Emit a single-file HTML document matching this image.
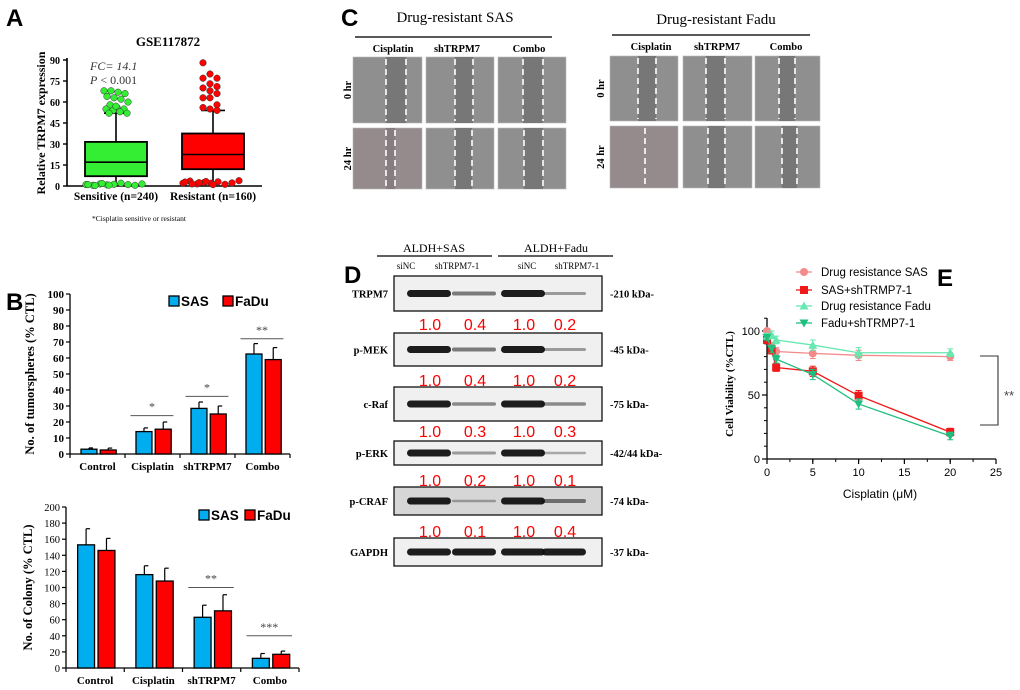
<!DOCTYPE html>
<html><head><meta charset="utf-8"><style>
html,body{margin:0;padding:0;background:#fff;}
svg{display:block;font-family:"Liberation Serif",serif;}
.sans{font-family:"Liberation Sans",sans-serif;}
</style></head><body>
<svg id="fig" width="1020" height="690" viewBox="0 0 1020 690" xmlns="http://www.w3.org/2000/svg">
<g id="gA"></g>
<g id="gB1"></g>
<g id="gB2"></g>
<g id="gC"></g>
<g id="gD"></g>
<g id="gE"></g>
</svg>
<script>
// ---------- Panel A data ----------
const boxGroups = ["Sensitive (n=240)", "Resistant (n=160)"];
const boxQ1 = [7, 12];
const boxMedian = [17, 22.5];
const boxQ3 = [31.5, 37.5];
const boxWhiskerHi = [52, 54];
const boxWhiskerLo = [0, 0];
const outSensHi = [68,68,67,66,64,63,62,60,58,56,55,55,54,53,52,52,57];
const outSensLo = [1,0.5,1.5,0.8,1.2,2,1,0.5,1.5,1,0.3,1.8,0.6];
const outResHi = [88,80,77,77,73,71,70,68,66,63,63,58,56,55,54];
const outResLo = [2,3.5,1.5,2.5,2,3,1.2,2.2,3.8,2.8,1.5,2.4,3.2,1];
const aTicks = [0,15,30,45,60,75,90];
// ---------- Panel B data ----------
const bCats = ["Control","Cisplatin","shTRPM7","Combo"];
const tsSAS = [3, 14, 28.5, 62.5];
const tsFaDu = [2.5, 15.5, 25, 59];
const tsSASerr = [0.8, 2.3, 4, 6.5];
const tsFaDuerr = [1.2, 4.5, 5, 7.5];
const tsTicks = [0,10,20,30,40,50,60,70,80,90,100];
const colSAS = [153, 116, 63, 12];
const colFaDu = [146, 108, 71, 17];
const colSASerr = [20, 11, 15, 6];
const colFaDuerr = [15, 16, 20, 4];
const colTicks = [0,20,40,60,80,100,120,140,160,180,200];
// ---------- Panel D data ----------
const blotProteins = ["TRPM7","p-MEK","c-Raf","p-ERK","p-CRAF","GAPDH"];
const blotKDa = ["-210 kDa-","-45 kDa-","-75 kDa-","-42/44 kDa-","-74 kDa-","-37 kDa-"];
const blotRatios = [[1.0,0.4,1.0,0.2],[1.0,0.4,1.0,0.2],[1.0,0.3,1.0,0.3],[1.0,0.2,1.0,0.1],[1.0,0.1,1.0,0.4]];
// ---------- Panel E data ----------
const eDoses = [0, 0.5, 1, 5, 10, 20];
const eSAS = [100, 88, 84, 82.5, 81, 80];
const eSASsh = [93, 85, 71.5, 68.5, 49.5, 21];
const eFadu = [96, 97, 93, 89, 83, 83];
const eFadush = [95, 86, 78, 66, 43, 18];
const eErr = [2, 3, 3, 4, 4, 3];
const eXTicks = [0,5,10,15,20,25];
const eYTicks = [0,50,100];

const NS="http://www.w3.org/2000/svg";
function el(parent, tag, attrs, text){
  const e=document.createElementNS(NS,tag);
  for(const k in attrs) e.setAttribute(k,attrs[k]);
  if(text!==undefined) e.textContent=text;
  parent.appendChild(e); return e;
}

// ================= Panel A =================
(function(){
  const g=document.getElementById('gA');
  let t;
  t=el(g,'text',{x:6,y:26,'font-size':24,'font-weight':'bold',class:'sans'},'A');
   
  t=el(g,'text',{x:168,y:46,'font-size':13,'font-weight':'bold','text-anchor':'middle'},'GSE117872');
   
  const x0=67,yb=186,yt=60;
  const y=v=>yb-(v/90)*(yb-yt);
  const ax=el(g,'path',{d:`M${x0},${yt-2}V${yb}H262`,stroke:'#000','stroke-width':1.6,fill:'none'});
   
  aTicks.forEach(v=>{
    el(g,'line',{x1:x0-4,x2:x0,y1:y(v),y2:y(v),stroke:'#000','stroke-width':1.4});
    t=el(g,'text',{x:x0-7,y:y(v)+4,'font-size':10,'font-weight':'bold','text-anchor':'end'},v);
     
  });
  t=el(g,'text',{x:0,y:0,'font-size':12,'font-weight':'bold','text-anchor':'middle',transform:`translate(45,${(yt+yb)/2}) rotate(-90)`},'Relative TRPM7 expression');
   
  const cx=[116,213], colors=['#33ee33','#ff0000'];
  boxGroups.forEach((name,i)=>{
    el(g,'line',{x1:cx[i],x2:cx[i],y1:y(boxWhiskerHi[i]),y2:y(boxWhiskerLo[i]),stroke:'#000','stroke-width':1.6});
    el(g,'line',{x1:cx[i]-12,x2:cx[i]+12,y1:y(boxWhiskerHi[i]),y2:y(boxWhiskerHi[i]),stroke:'#000','stroke-width':1.6});
    const b=el(g,'rect',{x:cx[i]-31,y:y(boxQ3[i]),width:62,height:y(boxQ1[i])-y(boxQ3[i]),fill:colors[i],stroke:'#000','stroke-width':1.8});
     
    el(g,'line',{x1:cx[i]-31,x2:cx[i]+31,y1:y(boxMedian[i]),y2:y(boxMedian[i]),stroke:'#000','stroke-width':1.6});
    t=el(g,'text',{x:cx[i],y:200,'font-size':11.5,'font-weight':'bold','text-anchor':'middle'},name);
     
  });
  function dots(vals,c,col,spread){
    vals.forEach((v,k)=>{
      const dx=((k*7)%(spread*2+1))-spread;
      const d=el(g,'circle',{cx:c+dx,cy:y(v),r:3.3,fill:col,stroke:'#333','stroke-width':0.5});
       
    });
  }
  dots(outSensHi,cx[0],colors[0],12); dots(outSensLo,cx[0],colors[0],30);
  dots(outResHi,cx[1],colors[1],10); dots(outResLo,cx[1],colors[1],30);
  t=el(g,'text',{x:90,y:70,'font-size':12,'font-style':'italic',fill:'#333'},'FC= 14.1');
   
  t=el(g,'text',{x:90,y:84,'font-size':12,fill:'#333'}); t.innerHTML='<tspan font-style="italic">P</tspan> &lt; 0.001';
   
  t=el(g,'text',{x:92,y:221,'font-size':7.5},'*Cisplatin sensitive or resistant');
   
})();

// ================= Panel B =================
function barChart(g,opt){
  const {x0,x1,yb,yt,max,ticks,sas,fadu,sasE,faduE,sig,legY,legX,catY,title,titleX,tickBold}=opt;
  const y=v=>yb-(v/max)*(yb-yt);
  const gw=(x1-x0)/bCats.length;
  let t;
  const ax=el(g,'path',{d:`M${x0},${yt}V${yb}H${x1}`,stroke:'#000','stroke-width':1.3,fill:'none'});
   
  ticks.forEach(v=>{
    el(g,'line',{x1:x0-4,x2:x0,y1:y(v),y2:y(v),stroke:'#000','stroke-width':1.2});
    t=el(g,'text',{x:x0-6,y:y(v)+4,'font-size':tickBold?11:10.5,'font-weight':tickBold?'bold':'normal','text-anchor':'end'},v);
     
  });
  for(let i=0;i<=bCats.length;i++) el(g,'line',{x1:x0+i*gw,x2:x0+i*gw,y1:yb,y2:yb+4,stroke:'#000','stroke-width':1.2});
  bCats.forEach((c,i)=>{
    const gx=x0+i*gw;
    [[sas,sasE,'#00aeef',gw*0.2,'sas'],[fadu,faduE,'#ff0000',gw*0.55,'fadu']].forEach(([vals,errs,col,off,nm])=>{
      const bx=gx+off, bw=gw*0.29;
      el(g,'line',{x1:bx+bw/2,x2:bx+bw/2,y1:y(vals[i]),y2:y(vals[i]+errs[i]),stroke:'#000','stroke-width':1.2});
      el(g,'line',{x1:bx+bw/2,x2:bx+bw/2+4,y1:y(vals[i]+errs[i]),y2:y(vals[i]+errs[i]),stroke:'#000','stroke-width':1.2});
      const r=el(g,'rect',{x:bx,y:y(vals[i]),width:bw,height:yb-y(vals[i]),fill:col,stroke:'#000','stroke-width':1.3});
       
    });
    t=el(g,'text',{x:gx+gw/2,y:catY,'font-size':11,'font-weight':'bold','text-anchor':'middle'},c);
     
  });
  sig.forEach(([ci,lv,stars])=>{
    const gx=x0+ci*gw, ly=y(lv);
    el(g,'line',{x1:gx+gw*0.1,x2:gx+gw*0.88,y1:ly,y2:ly,stroke:'#555','stroke-width':1});
    t=el(g,'text',{x:gx+gw*0.49,y:ly-5,'font-size':12,'text-anchor':'middle',fill:'#444'},stars);
     
  });
  [[legX[0],'#00aeef','SAS'],[legX[1],'#ff0000','FaDu']].forEach(([lx,col,nm])=>{
    const s=el(g,'rect',{x:lx,y:legY-8,width:10,height:10,fill:col,stroke:'#000','stroke-width':1.3});
     
    t=el(g,'text',{x:lx+12,y:legY+2,'font-size':13.5,'font-weight':'bold',class:'sans'},nm);
     
  });
  t=el(g,'text',{x:0,y:0,'font-size':12.5,'font-weight':'bold','text-anchor':'middle',transform:`translate(${titleX},${(yt+yb)/2}) rotate(-90)`},title);
   
}
(function(){
  const g=document.getElementById('gB1');
  const t=el(g,'text',{x:6,y:310,'font-size':24,'font-weight':'bold',class:'sans'},'B');
   
  barChart(g,{x0:70,x1:290,yb:454,yt:294,max:100,ticks:tsTicks,sas:tsSAS,fadu:tsFaDu,sasE:tsSASerr,faduE:tsFaDuerr,
    sig:[[1,24,'*'],[2,36,'*'],[3,72,'**']],legY:304,legX:[169,223],catY:470,title:'No. of tumorspheres (% CTL)',titleX:34,tickBold:true});
  barChart(document.getElementById('gB2'),{x0:66,x1:299,yb:668,yt:507,max:200,ticks:colTicks,sas:colSAS,fadu:colFaDu,sasE:colSASerr,faduE:colFaDuerr,
    sig:[[2,100,'**'],[3,40,'***']],legY:518,legX:[199,245],catY:684,title:'No. of Colony (% CTL)',titleX:32,tickBold:false});
})();

// ================= Panel C =================
(function(){
  const g=document.getElementById('gC');
  let t=el(g,'text',{x:341,y:26,'font-size':24,'font-weight':'bold',class:'sans'},'C');
   
  const blocks=[
    {title:'Drug-resistant SAS',tx:455,ty:22,line:[355,552,37],hy:52,heads:[393,457,529],cols:[[353,422],[426,494],[498,566]],rows:[[57,123],[128,189]],rl:347,
     gaps:[[[386,406],[455,473],[523,543]],[[386,395],[455,472],[524,543]]]},
    {title:'Drug-resistant Fadu',tx:716,ty:24,line:[612,810,35],hy:50,heads:[651,717,786],cols:[[610,678],[683,752],[755,820]],rows:[[56,121],[126,188]],rl:600,
     gaps:[[[638,656],[706,725],[779,795]],[[645,645],[708,725],[782,797]]]}
  ];
  const heads=['Cisplatin','shTRPM7','Combo'];
  blocks.forEach((b,bi)=>{
    t=el(g,'text',{x:b.tx,y:b.ty,'font-size':15,'text-anchor':'middle'},b.title);
     
    el(g,'line',{x1:b.line[0],x2:b.line[1],y1:b.line[2],y2:b.line[2],stroke:'#222','stroke-width':1.5});
    heads.forEach((h,i)=>{
      t=el(g,'text',{x:b.heads[i],y:b.hy,'font-size':10.5,'font-weight':'bold','text-anchor':'middle'},h);
       
    });
    ['0 hr','24 hr'].forEach((rname,ri)=>{
      const [ry0,ry1]=b.rows[ri];
      t=el(g,'text',{x:0,y:0,'font-size':10.5,'font-weight':'bold','text-anchor':'middle',transform:`translate(${b.rl+4},${(ry0+ry1)/2}) rotate(-90)`},rname);
       
      b.cols.forEach(([cx0,cx1],ci)=>{
        const pink=(ri===1&&ci===0);
        const im=el(g,'rect',{x:cx0,y:ry0,width:cx1-cx0,height:ry1-ry0,fill:pink?'#958b8d':'#8f8f8f',stroke:'#bbb','stroke-width':0.6});
         
        const [g0,g1]=b.gaps[ri][ci];
        if(g1>g0) el(g,'rect',{x:g0,y:ry0,width:g1-g0,height:ry1-ry0,fill:pink?'#857d80':'#777'});
        (g1>g0?[g0,g1]:[g0]).forEach(xx=>el(g,'line',{x1:xx,x2:xx,y1:ry0+2,y2:ry1-2,stroke:'#fff','stroke-width':1.6,'stroke-dasharray':'6 4'}));
      });
    });
  });
})();

// ================= Panel D =================
(function(){
  const g=document.getElementById('gD');
  let t=el(g,'text',{x:344,y:283,'font-size':24,'font-weight':'bold',class:'sans'},'D');
   
  [['ALDH+SAS',434,377,492],['ALDH+Fadu',556,498,613]].forEach(([s,cx,a,b])=>{
    t=el(g,'text',{x:cx,y:252,'font-size':12,'text-anchor':'middle'},s);
     
    el(g,'line',{x1:a,x2:b,y1:256,y2:256,stroke:'#000','stroke-width':1.2});
  });
  const laneX=[430,475,524,565];
  ['siNC','shTRPM7-1','siNC','shTRPM7-1'].forEach((s,i)=>{
    t=el(g,'text',{x:[406,457,527,577][i],y:269,'font-size':9,'text-anchor':'middle'},s);
     
  });
  const rows=[[276,311],[333,366],[387,421],[441,465],[487,515],[538,566]];
  const ratioY=[330,386,437,486,537];
  blotProteins.forEach((p,i)=>{
    const [a,b]=rows[i];
    const r=el(g,'rect',{x:394,y:a,width:208,height:b-a,fill:i===4?'#d6d6d6':'#f0f0f0',stroke:'#111','stroke-width':1.3});
     
    const mid=(a+b)/2;
    laneX.forEach((lx,li)=>{
      const rat = i<5 ? blotRatios[i][li] : 1;
      const th = 2+rat*5, op=0.25+rat*0.7;
      el(g,'rect',{x:lx-23,y:mid-th/2,width:44,height:th,rx:th/2,fill:'#111','fill-opacity':op});
    });
    t=el(g,'text',{x:388,y:mid+4,'font-size':10.5,'font-weight':'bold','text-anchor':'end'},p);
     
    t=el(g,'text',{x:610,y:mid+4,'font-size':10.5,'font-weight':'bold'},blotKDa[i]);
     
    if(i<5) blotRatios[i].forEach((v,li)=>{
      t=el(g,'text',{x:laneX[li],y:ratioY[i],'font-size':16,'text-anchor':'middle',fill:'#ff0000',class:'sans'},v.toFixed(1));
       
    });
  });
})();

// ================= Panel E =================
(function(){
  const g=document.getElementById('gE');
  let t=el(g,'text',{x:937,y:286,'font-size':24,'font-weight':'bold',class:'sans'},'E');
   
  const x0=767,yb=459,yt=318;
  const X=v=>x0+v*9.16, Y=v=>yb-v*1.28;
  const ax=el(g,'path',{d:`M${x0},${yt}V${yb}H${X(25)}`,stroke:'#000','stroke-width':1.3,fill:'none'});
   
  eXTicks.forEach(v=>{
    el(g,'line',{x1:X(v),x2:X(v),y1:yb,y2:yb+5,stroke:'#000','stroke-width':1.2});
    t=el(g,'text',{x:X(v),y:yb+17,'font-size':11,'text-anchor':'middle',class:'sans'},v);
     
  });
  for(let v=0;v<=25;v+=2.5) el(g,'line',{x1:X(v),x2:X(v),y1:yb,y2:yb+3,stroke:'#000','stroke-width':1});
  eYTicks.forEach(v=>{
    el(g,'line',{x1:x0-5,x2:x0,y1:Y(v),y2:Y(v),stroke:'#000','stroke-width':1.2});
    t=el(g,'text',{x:x0-7,y:Y(v)+4,'font-size':11,'text-anchor':'end',class:'sans'},v);
     
  });
  for(let v=0;v<=110;v+=10) el(g,'line',{x1:x0-3,x2:x0,y1:Y(v),y2:Y(v),stroke:'#000','stroke-width':1});
  t=el(g,'text',{x:0,y:0,'font-size':11,'font-weight':'bold','text-anchor':'middle',transform:`translate(733,384) rotate(-90)`},'Cell Viability (%CTL)');
   
  t=el(g,'text',{x:880,y:498,'font-size':12,'text-anchor':'middle',class:'sans'},'Cisplatin (μM)');
   
  const series=[
    [eSAS,'#f48a8a','circle','Drug resistance SAS',272],
    [eSASsh,'#f01818','square','SAS+shTRMP7-1',290],
    [eFadu,'#66e8b0','tri','Drug resistance Fadu',306],
    [eFadush,'#1fbf80','tridown','Fadu+shTRMP7-1',323]
  ];
  function marker(x,y,shape,col){
    if(shape==='circle') return el(g,'circle',{cx:x,cy:y,r:4,fill:col});
    if(shape==='square') return el(g,'rect',{x:x-4,y:y-4,width:8,height:8,fill:col});
    if(shape==='tri') return el(g,'path',{d:`M${x},${y-4.5}L${x+4.5},${y+3.5}L${x-4.5},${y+3.5}Z`,fill:col});
    return el(g,'path',{d:`M${x},${y+4.5}L${x+4.5},${y-3.5}L${x-4.5},${y-3.5}Z`,fill:col});
  }
  series.forEach(([vals,col,shape,name,ly])=>{
    const p=el(g,'polyline',{points:eDoses.map((d,i)=>X(d)+','+Y(vals[i])).join(' '),fill:'none',stroke:col,'stroke-width':1.3});
     
    eDoses.forEach((d,i)=>{
      el(g,'path',{d:`M${X(d)-3},${Y(vals[i]+eErr[i])}H${X(d)+3}M${X(d)},${Y(vals[i]+eErr[i])}V${Y(vals[i]-eErr[i])}M${X(d)-3},${Y(vals[i]-eErr[i])}H${X(d)+3}`,stroke:col,'stroke-width':1,fill:'none'});
      const m=marker(X(d),Y(vals[i]),shape,col);
       
    });
    el(g,'line',{x1:796,x2:812,y1:ly,y2:ly,stroke:col,'stroke-width':1.3});
    const lm=marker(804,ly,shape,col);
     
    t=el(g,'text',{x:821,y:ly+4,'font-size':11.5,class:'sans'},name);
     
  });
  el(g,'path',{d:'M980,356H998V425H980',stroke:'#333','stroke-width':1.1,fill:'none'});
  t=el(g,'text',{x:1004,y:400,'font-size':13,fill:'#444',class:'sans'},'**');
   
})();
</script>
</body></html>
